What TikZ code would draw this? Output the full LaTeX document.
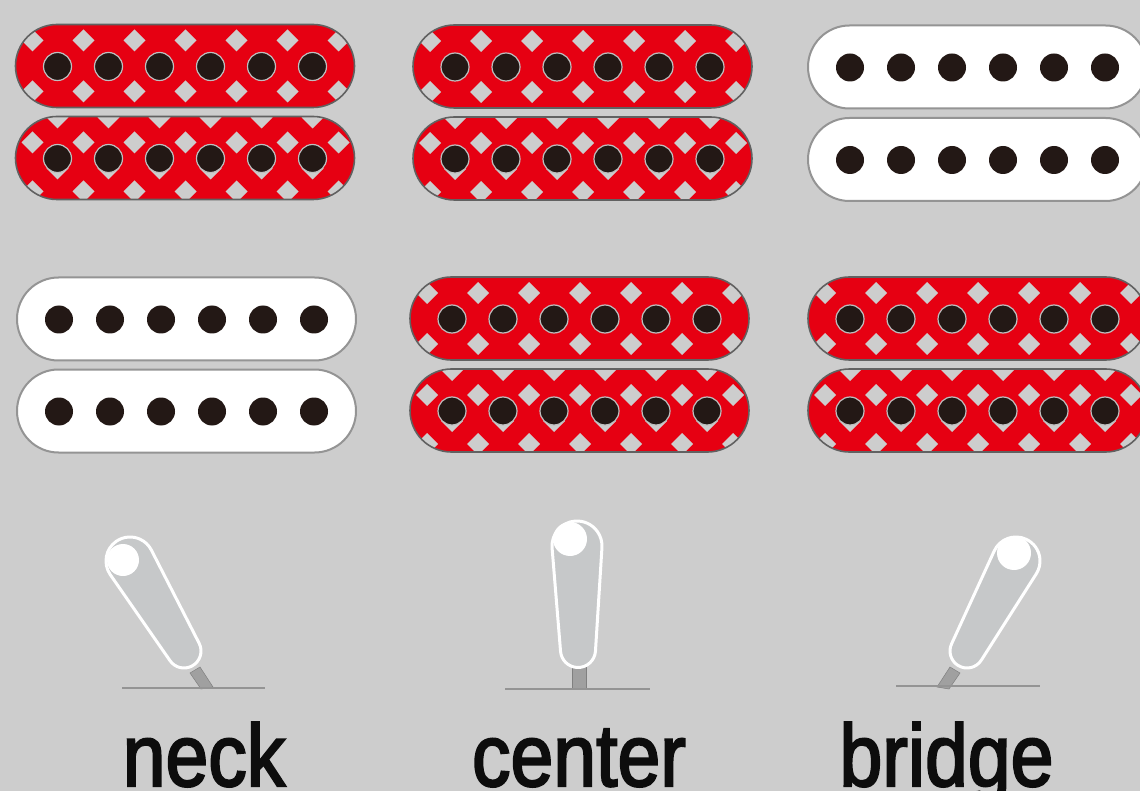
\documentclass[tikz,border=0pt]{standalone}
\usepackage{fontspec}
\setmainfont{Liberation Sans}
\newfontfamily\capfont[FakeBold=2.6]{Liberation Sans}
\usetikzlibrary{calc}
\definecolor{bg}{HTML}{CDCDCD}
\definecolor{pickred}{HTML}{E60012}
\definecolor{polec}{HTML}{231815}
\definecolor{leverc}{HTML}{C6C8C9}
\definecolor{stemc}{HTML}{A0A0A0}
\tikzset{
  coilred/.style={draw=black!62,line width=1.6pt},
  coilwhite/.style={draw=black!42,line width=2pt,fill=white},
  diamondc/.style={fill=bg},
  polered/.style={fill=polec,draw=black!25,line width=1.2pt},
  polewhite/.style={fill=polec},
  lever/.style={draw=white,line width=3pt,fill=leverc,line join=round},
  ball/.style={fill=white},
  stem/.style={fill=stemc,draw=black!50,line width=.5pt},
  baseln/.style={draw=black!42,line width=2.2pt},
  caption/.style={font=\capfont\fontsize{88}{88}\selectfont,text=black!95,anchor=base,inner sep=0pt,xscale=.875}
}
\newcommand{\diam}[2]{\fill[diamondc] (#1-11,#2) -- (#1,#2-11) -- (#1+11,#2) -- (#1,#2+11) -- cycle;}
\newcommand{\coilpath}[2]{[rounded corners=41.5pt] (#1-42,#2-42) rectangle (#1+297,#2+41)}
\newcommand{\poles}[3]{\foreach \k in {0,...,5}{\path[#3] (#1+51*\k,#2) circle[radius=14pt];}}
\newcommand{\coilA}[2]{%
  \begin{scope}\clip \coilpath{#1}{#2};
    \fill[pickred] (#1-50,#2-50) rectangle (#1+300,#2+50);
    \foreach \k in {0,...,6}{\diam{#1-25+51*\k}{#2-26}\diam{#1-25+51*\k}{#2+25}}
  \end{scope}
  \path[coilred] \coilpath{#1}{#2};
  \poles{#1}{#2}{polered}}
\newcommand{\coilB}[2]{%
  \begin{scope}\clip \coilpath{#1}{#2};
    \fill[pickred] (#1-50,#2-50) rectangle (#1+300,#2+50);
    \foreach \k in {0,...,6}{\diam{#1-25+51*\k}{#2-16}\diam{#1-25+51*\k}{#2+33}}
    \foreach \k in {0,...,5}{\diam{#1+51*\k}{#2-41}\diam{#1+51*\k}{#2+10}}
  \end{scope}
  \path[coilred] \coilpath{#1}{#2};
  \poles{#1}{#2}{polered}}
\newcommand{\coilW}[2]{%
  \path[coilwhite] \coilpath{#1}{#2};
  \poles{#1}{#2}{polewhite}}
\newcommand{\redpickup}[3]{\coilA{#1}{#2}\coilB{#1}{#3}}
\newcommand{\whitepickup}[3]{\coilW{#1}{#2}\coilW{#1}{#3}}
\newcommand{\leverbody}[6]{%
  \pgfmathsetmacro{\th}{atan2(#2-#5,#1-#4)}%
  \pgfmathsetmacro{\dd}{veclen(#1-#4,#2-#5)}%
  \pgfmathsetmacro{\ph}{acos((#6-#3)/\dd)}%
  \draw[lever] ($(#1,#2)+({\th-\ph}:#3pt)$)
    arc[start angle={\th-\ph},end angle={\th+\ph},radius=#3pt]
    -- ($(#4,#5)+({\th+\ph}:#6pt)$)
    arc[start angle={\th+\ph},end angle={\th-\ph+360},radius=#6pt]
    -- cycle;}
\begin{document}
\begin{tikzpicture}[x=1pt,y=1pt,yscale=-1]
\fill[bg] (0,0) rectangle (1140,791);
\clip (0,0) rectangle (1140,791);
\useasboundingbox (0,0) rectangle (1140,791);

\redpickup{57.5}{66.5}{158.5}
\redpickup{455}{67}{159}
\whitepickup{850}{67.5}{160}
\whitepickup{59}{319.5}{411.5}
\redpickup{452}{319}{411}
\redpickup{850}{319}{411}

% neck switch
\path[stem] (190,673) -- (200,667) -- (213,687) -- (201,689) -- cycle;
\draw[baseln] (122,688) -- (265,688);
\leverbody{130}{561}{24}{184}{651}{17}
\fill[ball] (123,560) circle[radius=16pt];

% center switch
\path[stem] (572,665) rectangle (586,689);
\draw[baseln] (505,689) -- (650,689);
\leverbody{577}{546}{25}{578}{650}{17.5}
\fill[ball] (570,539) circle[radius=17pt];

% bridge switch
\path[stem] (950,667) -- (960,673) -- (949,689) -- (937,687) -- cycle;
\draw[baseln] (896,686) -- (1040,686);
\leverbody{1016}{561}{24}{967}{651}{17}
\fill[ball] (1014,553) circle[radius=17pt];

\node[caption] (neck) at (204,786) {neck};
\node[caption] (center) at (579,786) {center};
\node[caption] (bridge) at (946.5,786) {bridge};
\end{tikzpicture}
\end{document}
